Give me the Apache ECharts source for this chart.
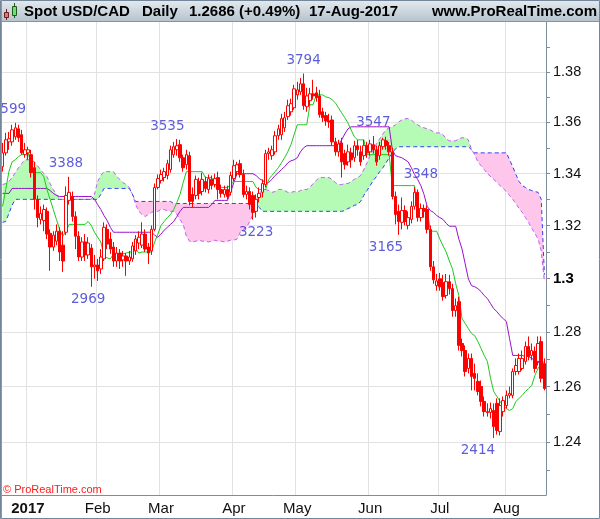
<!DOCTYPE html>
<html><head><meta charset="utf-8">
<script src="https://cdn.jsdelivr.net/npm/echarts@6/dist/echarts.min.js"></script>
<style>html,body{margin:0;padding:0;background:#fff}#c{width:600px;height:519px}</style>
</head><body><div id="c"></div>
<script>
// ---- data ----
const monthLabels = ['Dec','2017','Feb','Mar','Apr','May','Jun','Jul','Aug'];
const monthBarCounts = [8,22,20,23,20,23,22,21,13];
// [open, close, low, high]
const ohlc = [
[1.3427,1.3481,1.3408,1.3520],[1.3481,1.3532,1.3470,1.3559],[1.3524,1.3536,1.3493,1.3563],[1.3524,1.3571,1.3509,1.3591],[1.3544,1.3579,1.3532,1.3599],
[1.3575,1.3540,1.3524,1.3591],[1.3552,1.3481,1.3474,1.3571],[1.3474,1.3493,1.3462,1.3520],[1.3481,1.3493,1.3454,1.3505],[1.3474,1.3404,1.3385,1.3493],
[1.3423,1.3301,1.3262,1.3446],[1.3301,1.3231,1.3194,1.3316],[1.3224,1.3247,1.3205,1.3274],[1.3220,1.3262,1.3179,1.3281],[1.3255,1.3168,1.3149,1.3270],
[1.3171,1.3119,1.3029,1.3186],[1.3119,1.3164,1.3104,1.3179],[1.3141,1.3179,1.3126,1.3205],[1.3179,1.3100,1.3066,1.3194],[1.3126,1.3066,1.3025,1.3179],
[1.3175,1.3316,1.3164,1.3351],[1.3297,1.3328,1.3281,1.3388],[1.3312,1.3235,1.3216,1.3331],[1.3235,1.3160,1.3111,1.3255],[1.3160,1.3081,1.3066,1.3179],
[1.3081,1.3138,1.3066,1.3156],[1.3138,1.3089,1.3066,1.3168],[1.3089,1.3134,1.3074,1.3156],[1.3115,1.3044,1.2969,1.3130],[1.3044,1.3051,1.2999,1.3089],
[1.3051,1.3029,1.2991,1.3074],[1.3036,1.3081,1.3017,1.3111],[1.3074,1.3194,1.3066,1.3213],[1.3186,1.3130,1.3111,1.3205],[1.3149,1.3111,1.3093,1.3175],
[1.3119,1.3066,1.3044,1.3138],[1.3066,1.3096,1.3044,1.3119],[1.3096,1.3066,1.3036,1.3111],[1.3070,1.3085,1.3044,1.3104],[1.3085,1.3066,1.3010,1.3096],
[1.3066,1.3081,1.3051,1.3104],[1.3074,1.3123,1.3063,1.3138],[1.3104,1.3149,1.3089,1.3164],[1.3134,1.3156,1.3111,1.3179],[1.3126,1.3168,1.3115,1.3213],
[1.3168,1.3111,1.3100,1.3186],[1.3119,1.3096,1.3055,1.3134],[1.3104,1.3186,1.3089,1.3201],[1.3186,1.3347,1.3179,1.3362],[1.3347,1.3381,1.3339,1.3397],
[1.3374,1.3397,1.3362,1.3416],[1.3385,1.3408,1.3370,1.3423],[1.3393,1.3439,1.3378,1.3454],[1.3416,1.3493,1.3404,1.3509],[1.3474,1.3505,1.3462,1.3524],
[1.3493,1.3509,1.3470,1.3535],[1.3513,1.3462,1.3446,1.3532],[1.3462,1.3423,1.3408,1.3474],[1.3435,1.3474,1.3416,1.3493],[1.3470,1.3293,1.3278,1.3485],
[1.3320,1.3293,1.3270,1.3347],[1.3316,1.3378,1.3301,1.3393],[1.3370,1.3324,1.3301,1.3385],[1.3331,1.3378,1.3316,1.3404],[1.3370,1.3343,1.3328,1.3389],
[1.3339,1.3381,1.3324,1.3397],[1.3378,1.3354,1.3339,1.3393],[1.3358,1.3381,1.3347,1.3400],[1.3385,1.3339,1.3301,1.3408],[1.3339,1.3324,1.3308,1.3358],
[1.3320,1.3339,1.3308,1.3354],[1.3339,1.3312,1.3301,1.3354],[1.3328,1.3393,1.3316,1.3408],[1.3381,1.3431,1.3370,1.3454],[1.3408,1.3435,1.3393,1.3446],
[1.3439,1.3397,1.3385,1.3454],[1.3397,1.3320,1.3308,1.3416],[1.3320,1.3331,1.3301,1.3354],[1.3331,1.3281,1.3262,1.3347],[1.3316,1.3251,1.3223,1.3331],
[1.3255,1.3301,1.3231,1.3320],[1.3308,1.3324,1.3289,1.3347],[1.3328,1.3362,1.3308,1.3378],[1.3358,1.3478,1.3347,1.3493],[1.3478,1.3485,1.3454,1.3501],
[1.3470,1.3493,1.3454,1.3509],[1.3485,1.3548,1.3474,1.3567],[1.3548,1.3575,1.3532,1.3591],[1.3552,1.3615,1.3532,1.3634],[1.3579,1.3619,1.3563,1.3642],
[1.3623,1.3666,1.3610,1.3690],[1.3642,1.3674,1.3627,1.3694],[1.3658,1.3733,1.3650,1.3749],[1.3709,1.3729,1.3690,1.3761],[1.3721,1.3753,1.3709,1.3776],
[1.3753,1.3666,1.3650,1.3794],[1.3662,1.3705,1.3642,1.3737],[1.3686,1.3713,1.3666,1.3737],[1.3713,1.3705,1.3690,1.3769],[1.3717,1.3698,1.3682,1.3741],
[1.3705,1.3631,1.3619,1.3729],[1.3642,1.3619,1.3602,1.3658],[1.3627,1.3606,1.3587,1.3642],[1.3606,1.3602,1.3579,1.3634],[1.3610,1.3524,1.3509,1.3627],
[1.3524,1.3485,1.3470,1.3540],[1.3485,1.3516,1.3466,1.3532],[1.3520,1.3446,1.3385,1.3540],[1.3478,1.3435,1.3416,1.3493],[1.3446,1.3485,1.3431,1.3513],
[1.3481,1.3454,1.3423,1.3501],[1.3462,1.3509,1.3446,1.3528],[1.3509,1.3493,1.3470,1.3532],[1.3485,1.3446,1.3431,1.3509],[1.3470,1.3509,1.3454,1.3532],
[1.3509,1.3481,1.3462,1.3524],[1.3485,1.3516,1.3470,1.3532],[1.3513,1.3493,1.3478,1.3547],[1.3493,1.3446,1.3431,1.3509],[1.3470,1.3509,1.3454,1.3524],
[1.3505,1.3532,1.3493,1.3540],[1.3528,1.3509,1.3493,1.3544],[1.3509,1.3485,1.3470,1.3524],[1.3485,1.3312,1.3301,1.3501],[1.3312,1.3243,1.3205,1.3331],
[1.3255,1.3216,1.3165,1.3281],[1.3213,1.3258,1.3186,1.3308],[1.3258,1.3216,1.3201,1.3278],[1.3201,1.3231,1.3186,1.3255],[1.3224,1.3274,1.3209,1.3293],
[1.3274,1.3328,1.3262,1.3348],[1.3328,1.3231,1.3216,1.3339],[1.3231,1.3266,1.3216,1.3285],[1.3266,1.3255,1.3231,1.3281],[1.3262,1.3186,1.3171,1.3278],
[1.3186,1.3044,1.3029,1.3201],[1.3044,1.2995,1.2980,1.3066],[1.2973,1.2991,1.2954,1.3017],[1.2999,1.2969,1.2954,1.3021],[1.2984,1.2932,1.2917,1.3014],
[1.2936,1.2988,1.2925,1.3017],[1.2988,1.2962,1.2940,1.3014],[1.2962,1.2880,1.2857,1.2980],[1.2880,1.2898,1.2857,1.2925],[1.2913,1.2751,1.2732,1.2932],
[1.2758,1.2732,1.2710,1.2776],[1.2732,1.2655,1.2637,1.2751],[1.2666,1.2703,1.2648,1.2721],[1.2703,1.2637,1.2586,1.2721],[1.2648,1.2630,1.2586,1.2684],
[1.2619,1.2582,1.2568,1.2648],[1.2600,1.2546,1.2528,1.2622],[1.2546,1.2509,1.2491,1.2564],[1.2509,1.2506,1.2491,1.2539],[1.2506,1.2520,1.2484,1.2542],
[1.2513,1.2455,1.2414,1.2539],[1.2539,1.2441,1.2426,1.2557],[1.2437,1.2531,1.2423,1.2557],[1.2509,1.2549,1.2491,1.2564],[1.2531,1.2568,1.2520,1.2586],
[1.2568,1.2575,1.2557,1.2600],[1.2568,1.2655,1.2557,1.2666],[1.2655,1.2677,1.2641,1.2703],[1.2655,1.2703,1.2644,1.2721],[1.2666,1.2703,1.2659,1.2732],
[1.2692,1.2747,1.2681,1.2765],[1.2747,1.2710,1.2696,1.2784],[1.2714,1.2732,1.2696,1.2758],[1.2729,1.2666,1.2651,1.2747],[1.2692,1.2758,1.2677,1.2784],
[1.2765,1.2630,1.2615,1.2784],[1.2684,1.2593,1.2586,1.2703]
];
const tenkan = [
1.3274,1.3339,1.3408,1.3446,1.3454,1.3466,1.3474,1.3478,1.3485,1.3435,
1.3404,1.3404,1.3404,1.3389,1.3339,1.3301,1.3262,1.3224,1.3186,1.3160,
1.3179,1.3205,1.3205,1.3205,1.3205,1.3205,1.3205,1.3216,1.3201,1.3175,
1.3156,1.3138,1.3085,1.3078,1.3074,1.3093,1.3093,1.3093,1.3093,1.3096,
1.3100,1.3100,1.3111,1.3096,1.3100,1.3100,1.3100,1.3100,1.3138,1.3168,
1.3201,1.3216,1.3231,1.3243,1.3262,1.3289,1.3320,1.3366,1.3408,1.3408,
1.3408,1.3408,1.3408,1.3408,1.3385,1.3385,1.3385,1.3358,1.3347,1.3347,
1.3347,1.3347,1.3358,1.3370,1.3370,1.3370,1.3370,1.3370,1.3370,1.3370,
1.3347,1.3339,1.3339,1.3339,1.3378,1.3393,1.3408,1.3423,1.3442,1.3462,
1.3485,1.3513,1.3552,1.3591,1.3591,1.3591,1.3591,1.3670,1.3670,1.3709,
1.3709,1.3709,1.3701,1.3698,1.3690,1.3678,1.3658,1.3638,1.3619,1.3598,
1.3571,1.3544,1.3532,1.3532,1.3532,1.3474,1.3474,1.3474,1.3474,1.3474,
1.3474,1.3474,1.3474,1.3354,1.3354,1.3354,1.3354,1.3354,1.3354,1.3354,
1.3354,1.3262,1.3262,1.3262,1.3262,1.3179,1.3179,1.3179,1.3149,1.3123,
1.3100,1.3066,1.3036,1.2980,1.2936,1.2850,1.2832,1.2813,1.2795,1.2787,
1.2765,1.2740,1.2714,1.2692,1.2630,1.2582,1.2564,1.2546,1.2531,1.2520,
1.2513,1.2520,1.2546,1.2557,1.2568,1.2582,1.2593,1.2604,1.2641,1.2666,
1.2684,1.2692
];
const kijun = [
1.3324,1.3324,1.3324,1.3343,1.3343,1.3343,1.3343,1.3343,1.3343,1.3343,
1.3343,1.3343,1.3343,1.3343,1.3343,1.3335,1.3324,1.3316,1.3312,1.3312,
1.3312,1.3312,1.3312,1.3312,1.3312,1.3312,1.3312,1.3312,1.3312,1.3301,
1.3281,1.3262,1.3239,1.3220,1.3194,1.3175,1.3175,1.3175,1.3175,1.3175,
1.3175,1.3175,1.3175,1.3175,1.3175,1.3175,1.3175,1.3175,1.3164,1.3156,
1.3168,1.3183,1.3194,1.3205,1.3216,1.3235,1.3255,1.3270,1.3270,1.3270,
1.3270,1.3270,1.3270,1.3270,1.3270,1.3270,1.3281,1.3297,1.3297,1.3297,
1.3297,1.3297,1.3331,1.3366,1.3400,1.3400,1.3400,1.3400,1.3400,1.3400,
1.3393,1.3381,1.3374,1.3366,1.3366,1.3378,1.3393,1.3404,1.3416,1.3427,
1.3442,1.3450,1.3454,1.3462,1.3485,1.3501,1.3509,1.3509,1.3509,1.3509,
1.3509,1.3509,1.3509,1.3509,1.3509,1.3509,1.3509,1.3532,1.3555,1.3575,
1.3583,1.3583,1.3583,1.3583,1.3583,1.3583,1.3583,1.3583,1.3583,1.3583,
1.3583,1.3583,1.3583,1.3493,1.3470,1.3466,1.3462,1.3454,1.3446,1.3423,
1.3397,1.3378,1.3354,1.3320,1.3274,1.3258,1.3251,1.3239,1.3231,1.3224,
1.3209,1.3198,1.3198,1.3198,1.3149,1.3111,1.3055,1.2999,1.2973,1.2969,
1.2962,1.2951,1.2936,1.2925,1.2906,1.2887,1.2876,1.2861,1.2850,1.2839,
1.2776,1.2714,1.2714,1.2714,1.2714,1.2710,1.2710,1.2703,1.2696,1.2688,
1.2684,1.2604
];
const spanA = [
1.3358,1.3362,1.3370,1.3385,1.3404,1.3423,1.3439,1.3454,1.3454,1.3454,
1.3446,1.3431,1.3416,1.3400,1.3389,1.3362,1.3339,1.3320,1.3304,1.3301,
1.3301,1.3301,1.3301,1.3301,1.3301,1.3301,1.3301,1.3301,1.3301,1.3320,
1.3370,1.3393,1.3408,1.3408,1.3408,1.3408,1.3389,1.3378,1.3366,1.3358,
1.3347,1.3320,1.3281,1.3255,1.3243,1.3235,1.3243,1.3251,1.3255,1.3255,
1.3262,1.3262,1.3258,1.3255,1.3255,1.3243,1.3224,1.3205,1.3160,1.3141,
1.3138,1.3141,1.3145,1.3141,1.3141,1.3138,1.3141,1.3145,1.3141,1.3141,
1.3138,1.3141,1.3145,1.3145,1.3149,1.3175,1.3186,1.3194,1.3216,1.3243,
1.3281,1.3320,1.3339,1.3339,1.3335,1.3328,1.3331,1.3339,1.3339,1.3335,
1.3328,1.3328,1.3331,1.3328,1.3335,1.3339,1.3339,1.3347,1.3362,1.3374,
1.3385,1.3385,1.3385,1.3385,1.3378,1.3366,1.3358,1.3358,1.3362,1.3362,
1.3370,1.3378,1.3385,1.3393,1.3416,1.3442,1.3470,1.3493,1.3516,1.3536,
1.3555,1.3571,1.3579,1.3583,1.3591,1.3602,1.3610,1.3615,1.3615,1.3610,
1.3598,1.3591,1.3583,1.3579,1.3575,1.3571,1.3563,1.3559,1.3559,1.3552,
1.3536,1.3528,1.3528,1.3528,1.3536,1.3540,1.3540,1.3532,1.3493,1.3474,
1.3446,1.3431,1.3416,1.3400,1.3389,1.3378,1.3366,1.3354,1.3343,1.3331,
1.3316,1.3301,1.3285,1.3266,1.3251,1.3231,1.3213,1.3190,1.3171,1.3149,
1.3104,1.2988
];
const spanB = [
1.3213,1.3216,1.3247,1.3278,1.3301,1.3301,1.3301,1.3301,1.3301,1.3301,
1.3301,1.3301,1.3301,1.3301,1.3301,1.3301,1.3301,1.3301,1.3301,1.3301,
1.3301,1.3301,1.3301,1.3301,1.3301,1.3301,1.3301,1.3301,1.3301,1.3301,
1.3301,1.3320,1.3343,1.3343,1.3343,1.3343,1.3343,1.3343,1.3343,1.3343,
1.3343,1.3320,1.3293,1.3293,1.3293,1.3293,1.3293,1.3293,1.3293,1.3293,
1.3293,1.3293,1.3293,1.3293,1.3285,1.3285,1.3285,1.3285,1.3285,1.3285,
1.3285,1.3285,1.3285,1.3285,1.3285,1.3285,1.3285,1.3285,1.3285,1.3285,
1.3285,1.3285,1.3285,1.3285,1.3285,1.3285,1.3285,1.3285,1.3285,1.3285,
1.3285,1.3270,1.3255,1.3255,1.3255,1.3255,1.3255,1.3255,1.3255,1.3255,
1.3255,1.3255,1.3255,1.3255,1.3255,1.3255,1.3255,1.3255,1.3255,1.3255,
1.3255,1.3255,1.3255,1.3255,1.3255,1.3255,1.3255,1.3255,1.3258,1.3266,
1.3270,1.3278,1.3281,1.3293,1.3316,1.3335,1.3354,1.3374,1.3389,1.3408,
1.3423,1.3442,1.3462,1.3481,1.3497,1.3505,1.3505,1.3505,1.3505,1.3505,
1.3505,1.3505,1.3505,1.3505,1.3505,1.3505,1.3505,1.3505,1.3505,1.3505,
1.3505,1.3505,1.3505,1.3505,1.3505,1.3505,1.3505,1.3505,1.3493,1.3481,
1.3481,1.3481,1.3481,1.3481,1.3481,1.3481,1.3481,1.3481,1.3481,1.3481,
1.3454,1.3427,1.3397,1.3370,1.3354,1.3347,1.3339,1.3335,1.3331,1.3328,
1.3301,1.3014
];
const priceTicks = [1.24,1.26,1.28,1.30,1.32,1.34,1.36,1.38];
const minorTicks = [1.23,1.25,1.27,1.29,1.31,1.33,1.35,1.37,1.39];
const priceRange = [1.2211, 1.4001];
// high/low annotations: bar index where the label sits, price, above(1)/below(0)
const annIndex = [2,20,27,52,80,95,117,121,132,150];
const annPrice = [1.3599,1.3388,1.2969,1.3535,1.3223,1.3794,1.3547,1.3165,1.3348,1.2414];
const annAbove = [1,1,0,1,0,1,1,0,1,0];

// ---- build ----
const L = Math.log;
const cats = [], monthStart = {};
monthBarCounts.forEach((n, m) => {
  for (let k = 0; k < n; k++) {
    if (k === 0) monthStart[cats.length] = monthLabels[m];
    cats.push(monthLabels[m] + '-' + k);
  }
});
const isMonth = i => monthStart[i] !== undefined && monthStart[i] !== 'Dec';
const lnA = spanA.map(L), lnB = spanB.map(L);
const gBand = lnA.map((a, i) => Math.max(0, a - lnB[i]));
const pBand = lnB.map((b, i) => Math.max(0, b - lnA[i]));
const FONT = '"Liberation Sans", Arial, sans-serif';
const lineBase = {type: 'line', symbol: 'none', silent: true, smooth: false};

const chart = echarts.init(document.getElementById('c'), null, {renderer: 'canvas', width: 600, height: 519});
chart.setOption({
  animation: false,
  backgroundColor: '#ffffff',
  textStyle: {fontFamily: FONT},
  grid: {left: 1, right: 54, top: 22, bottom: 24, containLabel: false, outerBoundsMode: 'none'},
  xAxis: {
    type: 'category', data: cats, boundaryGap: true,
    axisLine: {show: true, lineStyle: {color: '#7d8d99', width: 1}},
    axisTick: {show: false},
    axisLabel: {
      interval: (i) => isMonth(i), margin: 6, fontSize: 15, color: '#111', fontFamily: FONT,
      formatter: (v, i) => { const s = monthStart[i]; return s === '2017' ? '{y|2017}' : (s || ''); },
      rich: {y: {fontWeight: 'bold', fontSize: 15, color: '#111', fontFamily: FONT}}
    },
    splitLine: {show: true, interval: (i) => isMonth(i), lineStyle: {color: '#e2e2e2', width: 1}}
  },
  yAxis: [{
    type: 'value', position: 'right', min: L(priceRange[0]), max: L(priceRange[1]), scale: true,
    axisLine: {show: true, lineStyle: {color: '#7d8d99', width: 1}},
    axisTick: {show: true, length: 4, customValues: priceTicks.map(L), lineStyle: {color: '#7d8d99'}},
    axisLabel: {
      customValues: priceTicks.map(L), margin: 7, fontSize: 14.5, color: '#111', fontFamily: FONT,
      formatter: (v) => { const s = String(parseFloat(Math.exp(v).toFixed(2))); return s === '1.3' ? '{b|1.3}' : s; },
      rich: {b: {fontWeight: 'bold', fontSize: 15, color: '#000', fontFamily: FONT}}
    },
    splitLine: {show: true, lineStyle: {color: '#e2e2e2', width: 1}}
  }, {
    type: 'value', position: 'right', min: L(priceRange[0]), max: L(priceRange[1]), scale: true,
    axisLine: {show: false},
    axisTick: {show: true, length: 4, customValues: minorTicks.map(L), lineStyle: {color: '#7d8d99'}},
    axisLabel: {show: false},
    splitLine: {show: false}
  }],
  series: [
    {...lineBase, stack: 'g', data: lnB, lineStyle: {opacity: 0}, z: 1},
    {...lineBase, stack: 'g', data: gBand, lineStyle: {opacity: 0}, areaStyle: {color: '#b5fbb5', opacity: 1}, z: 1},
    {...lineBase, stack: 'p', data: lnA, lineStyle: {opacity: 0}, z: 1},
    {...lineBase, stack: 'p', data: pBand, lineStyle: {opacity: 0}, areaStyle: {color: '#ffc6ec', opacity: 1}, z: 1},
    {...lineBase, data: lnA, lineStyle: {color: '#c45cf0', width: 1, type: [4, 3]}, z: 2},
    {...lineBase, data: lnB, lineStyle: {color: '#3040f0', width: 1, type: [4, 3]}, z: 2},
    {...lineBase, data: kijun.map(L), lineStyle: {color: '#9a10cc', width: 1}, z: 3},
    {...lineBase, data: tenkan.map(L), lineStyle: {color: '#1ec81e', width: 1}, z: 3},
    {
      type: 'candlestick', data: ohlc.map(r => r.map(L)), barWidth: 3, silent: true, z: 4,
      itemStyle: {color: '#ffffff', color0: '#ff0000', borderColor: '#ff0000', borderColor0: '#ff0000', borderColorDoji: '#ff0000', borderWidth: 1}
    },
    {
      type: 'scatter', symbol: 'circle', symbolSize: 2, silent: true, z: 5,
      itemStyle: {color: 'rgba(0,0,0,0)'},
      data: annIndex.map((ix, k) => ({value: [ix, L(annPrice[k])], label: {position: annAbove[k] ? 'top' : 'bottom'}})),
      label: {
        show: true, distance: 5, color: '#3434d0', fontSize: 13.5, fontFamily: '"DejaVu Sans", Verdana, sans-serif',
        formatter: (p) => String(Math.round((annPrice[p.dataIndex] - 1) * 10000))
      }
    }
  ],
  graphic: [
    {type: 'rect', z: 100, shape: {x: 0, y: 0, width: 600, height: 21},
      style: {fill: {type: 'linear', x: 0, y: 0, x2: 0, y2: 1, colorStops: [{offset: 0, color: '#e4eaef'}, {offset: 1, color: '#b6c4ce'}]}}},
    {type: 'line', z: 101, shape: {x1: 0, y1: 21.5, x2: 600, y2: 21.5}, style: {stroke: '#8294a2', lineWidth: 1}},
    {type: 'line', z: 101, shape: {x1: 6.5, y1: 9, x2: 6.5, y2: 20}, style: {stroke: '#6a2020', lineWidth: 1}},
    {type: 'rect', z: 102, shape: {x: 4.5, y: 12.5, width: 4, height: 5}, style: {fill: '#f07070', stroke: '#6a2020', lineWidth: 1}},
    {type: 'line', z: 101, shape: {x1: 14.5, y1: 3, x2: 14.5, y2: 18}, style: {stroke: '#1e5a1e', lineWidth: 1}},
    {type: 'rect', z: 102, shape: {x: 12.5, y: 6.5, width: 4, height: 9}, style: {fill: '#70e070', stroke: '#1e5a1e', lineWidth: 1}},
    {type: 'text', z: 103, style: {x: 24, y: 11.5, text: 'Spot USD/CAD', font: 'bold 15px ' + FONT, fill: '#000', verticalAlign: 'middle'}},
    {type: 'text', z: 103, style: {x: 142, y: 11.5, text: 'Daily', font: 'bold 15px ' + FONT, fill: '#000', verticalAlign: 'middle'}},
    {type: 'text', z: 103, style: {x: 189, y: 11.5, text: '1.2686 (+0.49%)', font: 'bold 15px ' + FONT, fill: '#000', verticalAlign: 'middle'}},
    {type: 'text', z: 103, style: {x: 309, y: 11.5, text: '17-Aug-2017', font: 'bold 15px ' + FONT, fill: '#000', verticalAlign: 'middle'}},
    {type: 'text', z: 103, style: {x: 597, y: 11.5, text: 'www.ProRealTime.com', font: 'bold 15px ' + FONT, fill: '#000', align: 'right', verticalAlign: 'middle'}},
    {type: 'text', z: 103, style: {x: 3, y: 489.5, text: '\u00A9 ProRealTime.com', font: '11px ' + FONT, fill: '#ff1a1a', verticalAlign: 'middle'}},
    {type: 'rect', z: 110, shape: {x: 0.5, y: 0.5, width: 599, height: 518}, style: {fill: 'none', stroke: '#74879a', lineWidth: 1}},
    {type: 'line', z: 110, shape: {x1: 1.5, y1: 0, x2: 1.5, y2: 519}, style: {stroke: '#8a9aaa', lineWidth: 1}}
  ]
});
</script>
</body></html>
